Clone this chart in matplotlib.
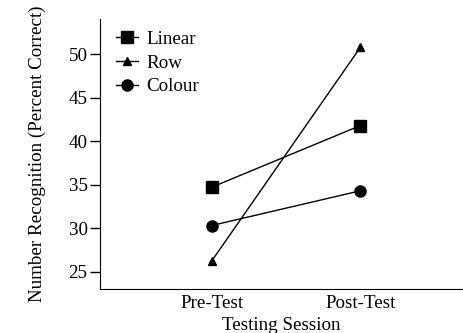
import matplotlib
matplotlib.use("Agg")
import matplotlib.pyplot as plt

# data
sessions = ["Pre-Test", "Post-Test"]
linear = [34.7, 41.8]
row = [26.2, 50.8]
colour = [30.3, 34.3]

plt.rcParams['font.family'] = ['Liberation Serif', 'DejaVu Serif']

fig = plt.figure(figsize=(4.63, 3.33), dpi=100)
ax = fig.add_axes([100/463, 1 - 289/333, 1 - 100/463, (289 - 19)/333])

x = [1, 2]
ax.plot(x, linear, '-s', color='black', lw=1, ms=8, label='Linear')
ax.plot(x, row, '-^', color='black', lw=1, ms=6, label='Row')
ax.plot(x, colour, '-o', color='black', lw=1, ms=8, label='Colour')

ax.set_xlim(0.25, 2.69)
ax.set_ylim(23, 54.06)
ax.set_yticks([25, 30, 35, 40, 45, 50])
ax.set_xticks(x)
ax.set_xticklabels(sessions)
ax.tick_params(axis='y', length=7, width=1, labelsize=13.7, pad=2)
ax.tick_params(axis='x', length=0, labelsize=13.7, pad=4)
ax.spines['top'].set_visible(False)
ax.spines['right'].set_visible(False)

ax.set_xlabel("Testing Session", fontsize=13.7, labelpad=4)
ax.set_ylabel("Number Recognition (Percent Correct)", fontsize=13.7, labelpad=16)

ax.legend(loc='upper left', frameon=False, fontsize=13.7, handlelength=1.15,
          handletextpad=0.45, labelspacing=0.33, borderaxespad=0,
          bbox_to_anchor=(0.023, 0.985))

fig.savefig("out.png", dpi=100)
